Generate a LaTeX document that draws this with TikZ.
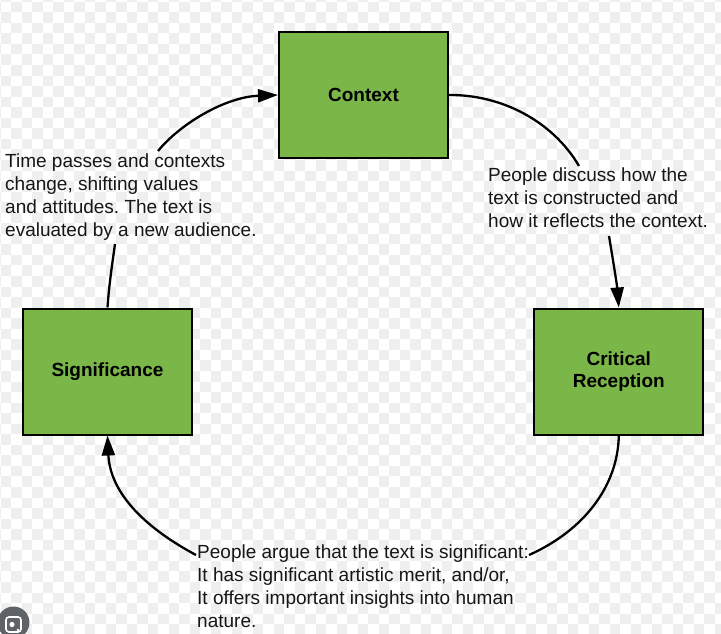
\documentclass[tikz,border=0pt]{standalone}
\usepackage{fontspec}
\setmainfont{Liberation Sans}
\usetikzlibrary{arrows.meta}
\definecolor{boxgreen}{RGB}{122,182,72}
\definecolor{chk}{RGB}{239,239,239}
\definecolor{lensgray}{RGB}{95,99,104}
\definecolor{txt}{RGB}{22,22,22}
\frenchspacing
\begin{document}
\begin{tikzpicture}[x=1pt,y=-1pt,
  stage/.style={draw=black, line width=2pt, fill=boxgreen, minimum width=169pt, minimum height=126pt,
    inner sep=0pt, font=\fontsize{19}{22.8}\selectfont\bfseries, align=center, text=black},
  lbl/.style={inner sep=0pt, align=left, anchor=base west, font=\fontsize{19}{23}\selectfont\frenchspacing, text=txt},
  conn/.style={line width=2.3pt, draw=black},
  arr/.style={conn, -{Triangle[length=20pt,width=13pt]}}]
\useasboundingbox (0,0) rectangle (721,634);
% checkerboard background
\fill[white] (0,0) rectangle (721,634);
\begin{scope}
\clip (0,0) rectangle (721,634);
\foreach \j in {1,3,...,61} {
  \foreach \i in {0,2,...,70} {
    \fill[chk] ({0.8+10.5*(\i-1)},{1.7+10.55*(\j-1)}) rectangle ++(10.5,10.55);
  }
}
\foreach \j in {0,2,...,60} {
  \foreach \i in {1,3,...,69} {
    \fill[chk] ({0.8+10.5*(\i-1)},{1.7+10.55*(\j-1)}) rectangle ++(10.5,10.55);
  }
}
\end{scope}
% boxes
\node[stage] (ctx) at (363.5,95) {Context};
\node[stage] (crit) at (618.8,371.5) {Critical\\Reception};
\node[stage] (sig) at (107.5,371.5) {Significance};
% labels (anchor base = baseline of the last line)
\node[lbl] (la) at (5,236) {Time passes and contexts\\change, shifting values\\and attitudes. The text is\\evaluated by a new audience.};
\node[lbl] (lb) at (488,227.5) {People discuss how the\\text is constructed and\\how it reflects the context.};
\node[lbl] (lc) at (197,627.5) {People argue that the text is significant:\\It has significant artistic merit, and/or,\\It offers important insights into human\\nature.};
% connector end points around the labels
\coordinate (a1) at (115,244);
\coordinate (a2) at (158,151);
\coordinate (b1) at (579,166);
\coordinate (b2) at (609,236);
\coordinate (c1) at (529,555);
\coordinate (c2) at (196,555);
% connectors
\draw[conn] (sig.north) .. controls (109,285) and (112.5,262) .. (a1);
\draw[arr] (a2) .. controls (180,124) and (225,97) .. (ctx.west);
\draw[conn] (ctx.east) .. controls (500,94.5) and (552,120) .. (b1);
\draw[arr] (b2) .. controls (613,260) and (617,285) .. (crit.north);
\draw[conn] (crit.south) .. controls (618,485) and (585,530) .. (c1);
\draw[arr] (c2) .. controls (140,525) and (110,490) .. (sig.south);
% lens badge
\fill[lensgray] (13.5,622.5) circle (16);
\draw[white, line width=1.6pt, rounded corners=3pt] (6,617) rectangle (21,632);
\fill[white] (12,624.5) circle (2.6);
\fill[white] (18,630) circle (1.3);
\end{tikzpicture}
\end{document}
